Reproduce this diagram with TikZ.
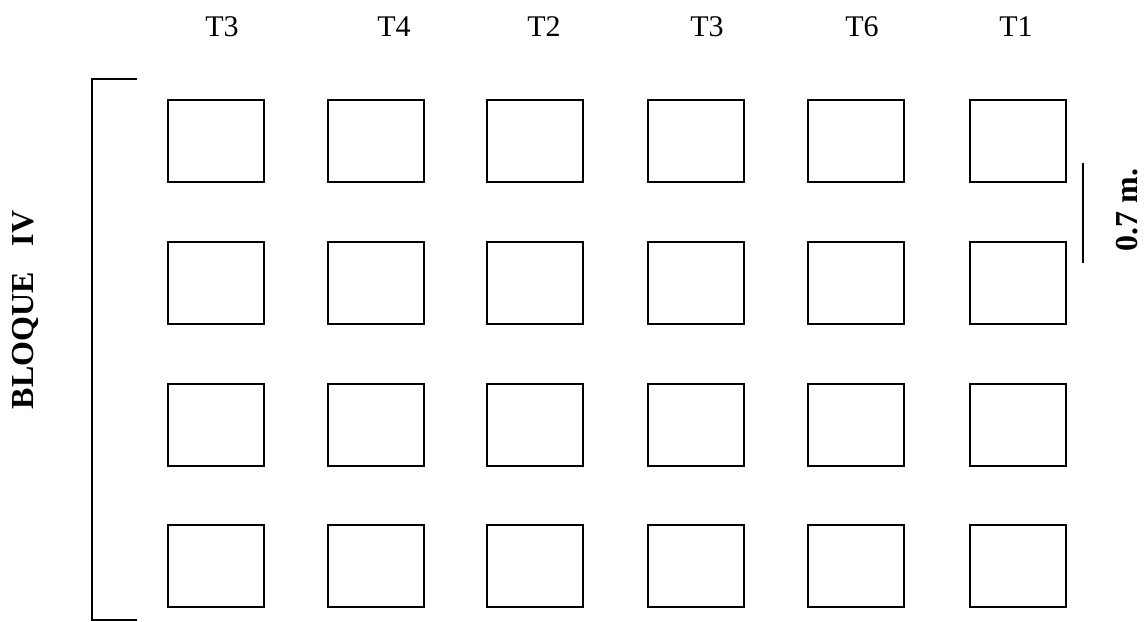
\documentclass[tikz,border=0pt]{standalone}
\usepackage{fontspec}
\setmainfont{Liberation Serif}
\begin{document}
\begin{tikzpicture}[x=0.5pt, y=-0.5pt, every node/.style={font=\fontsize{15}{18}\selectfont},
        plot/.style={draw, line width=0.6pt, minimum width=48pt, minimum height=41pt, inner sep=0pt},
        rotlabel/.style={rotate=90, inner sep=1pt, font=\fontsize{16}{19}\selectfont\bfseries}]
        \useasboundingbox (0, 0) rectangle (1144, 621);
        % parcelas
        \foreach \r/\y in {1/141, 2/283, 3/425, 4/566} {
            \foreach \c/\x in {1/216, 2/376, 3/535, 4/696, 5/856, 6/1018} {
                \node[plot] (p\r\c) at (\x, \y) {};
            }
        }
        % tratamientos
        \node (t1) at (222, 27) {T3};
        \node (t2) at (394, 27) {T4};
        \node (t3) at (544, 27) {T2};
        \node (t4) at (707, 27) {T3};
        \node (t5) at (862, 27) {T6};
        \node (t6) at (1016, 27) {T1};
        % bloque
        \coordinate (ba) at (137, 79);
        \coordinate (bb) at (92, 79);
        \coordinate (bc) at (92, 620);
        \coordinate (bd) at (137, 620);
        \draw[line width=0.6pt] (ba) -- (bb) -- (bc) -- (bd);
        \node[rotlabel] (bloque) at (25, 310) {BLOQUE\hspace{13pt}IV};
        % escala
        \coordinate (ea) at (1083, 163);
        \coordinate (eb) at (1083, 263);
        \draw[line width=0.6pt] (ea) -- (eb);
        \node[rotlabel] (escala) at (1127, 210) {0.7 m.};
    \end{tikzpicture}
\end{document}
